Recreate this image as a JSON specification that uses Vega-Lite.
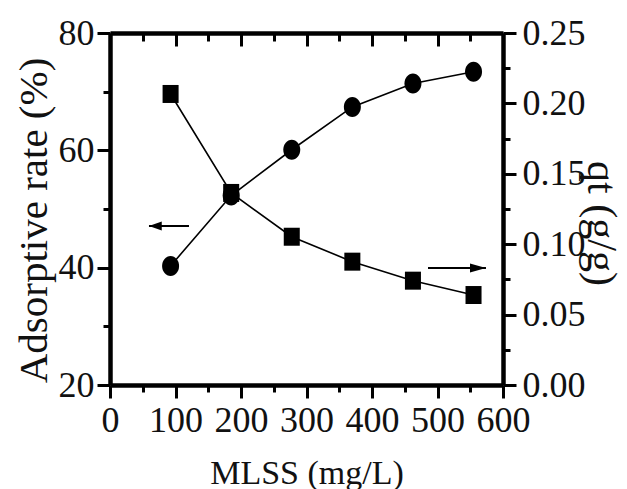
{
  "$schema": "https://vega.github.io/schema/vega-lite/v6.json",
  "width": 393,
  "height": 352,
  "autosize": {"type": "none"},
  "padding": {"left": 110, "top": 33, "right": 124, "bottom": 104},
  "background": "white",
  "datasets": {
    "rate": [
      {"mlss": 92.5, "rate": 40.3},
      {"mlss": 185, "rate": 52.3},
      {"mlss": 277.5, "rate": 60.1},
      {"mlss": 370, "rate": 67.4},
      {"mlss": 462.5, "rate": 71.4},
      {"mlss": 555, "rate": 73.4}
    ],
    "qt": [
      {"mlss": 92.5, "qt": 0.2067},
      {"mlss": 185, "qt": 0.1364},
      {"mlss": 277.5, "qt": 0.1053},
      {"mlss": 370, "qt": 0.0876},
      {"mlss": 462.5, "qt": 0.0741},
      {"mlss": 555, "qt": 0.0639}
    ],
    "arrowLeft": [
      {"mlss": 59.5, "rate": 47.1},
      {"mlss": 120.6, "rate": 47.1}
    ],
    "arrowLeftHead": [
      {"mlss": 59.5, "rate": 47.1}
    ],
    "arrowRight": [
      {"mlss": 485.5, "qt": 0.0831},
      {"mlss": 574, "qt": 0.0831}
    ],
    "arrowRightHead": [
      {"mlss": 574, "qt": 0.0831}
    ]
  },
  "config": {
    "view": {"stroke": null},
    "axis": {
      "grid": false,
      "domainColor": "black",
      "domainWidth": 4.5,
      "tickColor": "black",
      "tickWidth": 3,
      "labelFont": "Liberation Serif",
      "labelFontSize": 36,
      "labelColor": "#111",
      "labelFlush": false,
      "labelOverlap": false,
      "titleFont": "Liberation Serif",
      "titleFontWeight": "normal",
      "titleColor": "#111"
    }
  },
  "layer": [
    {
      "encoding": {
        "x": {
          "field": "mlss",
          "type": "quantitative",
          "scale": {"domain": [0, 600], "nice": false, "zero": false},
          "axis": {
            "orient": "bottom",
            "values": [0, 50, 100, 150, 200, 250, 300, 350, 400, 450, 500, 550, 600],
            "labelExpr": "datum.value % 100 === 0 ? datum.label : ''",
            "tickSize": {"condition": {"test": "datum.value % 100 === 0", "value": 13}, "value": 7},
            "labelPadding": 5,
            "title": "MLSS (mg/L)",
            "titleFontSize": 34,
            "titleY": 71
          }
        },
        "y": {
          "field": "rate",
          "type": "quantitative",
          "scale": {"domain": [20, 80], "nice": false, "zero": false},
          "axis": {
            "orient": "left",
            "values": [20, 30, 40, 50, 60, 70, 80],
            "labelExpr": "datum.value % 20 === 0 ? datum.label : ''",
            "tickSize": {"condition": {"test": "datum.value % 20 === 0", "value": 13}, "value": 7},
            "labelPadding": 3,
            "title": "Adsorptive rate (%)",
            "titleFontSize": 41,
            "titleAngle": -90,
            "titleBaseline": "bottom",
            "titleAlign": "center",
            "titleX": -55,
            "titleY": 187
          }
        }
      },
      "layer": [
        {"data": {"name": "rate"}, "mark": {"type": "line", "color": "black", "strokeWidth": 1.6}},
        {"data": {"name": "rate"}, "mark": {"type": "point", "filled": true, "color": "black", "opacity": 1, "size": 400, "shape": "M -0.85 0 A 0.85 1 0 1 0 0.85 0 A 0.85 1 0 1 0 -0.85 0 Z"}},
        {"data": {"name": "arrowLeft"}, "mark": {"type": "line", "color": "black", "strokeWidth": 2}},
        {"data": {"name": "arrowLeftHead"}, "mark": {"type": "point", "filled": true, "color": "black", "opacity": 1, "size": 256, "shape": "M 0 0 L 1.6 -0.55 L 1.6 0.55 Z"}}
      ]
    },
    {
      "encoding": {
        "x": {
          "field": "mlss",
          "type": "quantitative",
          "scale": {"domain": [0, 600], "nice": false, "zero": false},
          "axis": {
            "orient": "top",
            "values": [0, 50, 100, 150, 200, 250, 300, 350, 400, 450, 500, 550, 600],
            "labels": false,
            "tickSize": {"condition": {"test": "datum.value % 100 === 0", "value": -13}, "value": -8},
            "title": null
          }
        },
        "y": {
          "field": "qt",
          "type": "quantitative",
          "scale": {"domain": [0, 0.25], "nice": false, "zero": false},
          "axis": {
            "orient": "right",
            "values": [0, 0.025, 0.05, 0.075, 0.1, 0.125, 0.15, 0.175, 0.2, 0.225, 0.25],
            "labelExpr": "round(datum.value*1000) % 50 === 0 ? format(datum.value, '.2f') : ''",
            "tickSize": {"condition": {"test": "round(datum.value*1000) % 50 === 0", "value": 13}, "value": 7},
            "labelPadding": 6,
            "title": "qt (g/g)",
            "titleFontSize": 42,
            "titleAngle": 90,
            "titleBaseline": "bottom",
            "titleAlign": "center",
            "titleX": 75,
            "titleY": 190
          }
        }
      },
      "layer": [
        {"data": {"name": "qt"}, "mark": {"type": "line", "color": "black", "strokeWidth": 1.6}},
        {"data": {"name": "qt"}, "mark": {"type": "point", "filled": true, "color": "black", "opacity": 1, "size": 324, "shape": "M -0.89 -1 L 0.89 -1 L 0.89 1 L -0.89 1 Z"}},
        {"data": {"name": "arrowRight"}, "mark": {"type": "line", "color": "black", "strokeWidth": 2}},
        {"data": {"name": "arrowRightHead"}, "mark": {"type": "point", "filled": true, "color": "black", "opacity": 1, "size": 256, "shape": "M 0 0 L -2 -0.55 L -2 0.55 Z"}}
      ]
    }
  ],
  "resolve": {"scale": {"y": "independent"}, "axis": {"x": "independent", "y": "independent"}}
}
